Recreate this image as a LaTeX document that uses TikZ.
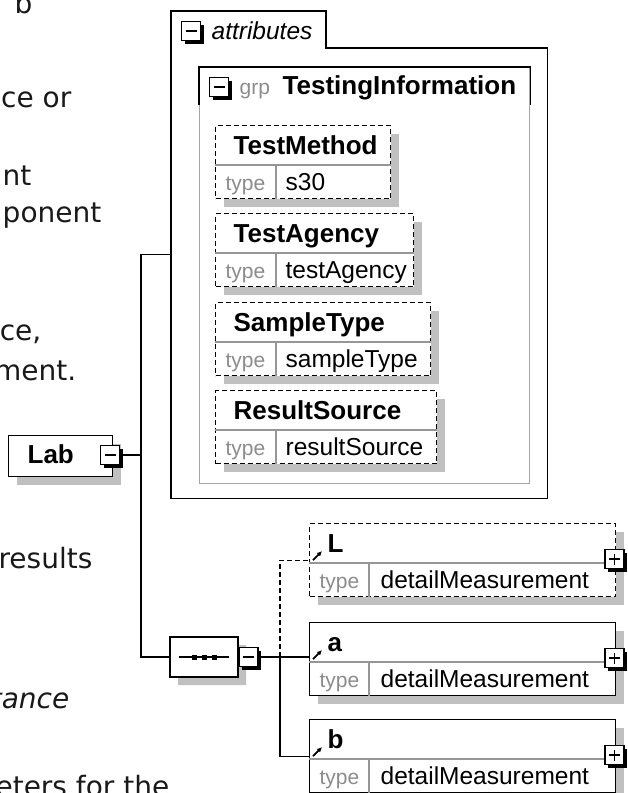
\documentclass[tikz,border=0pt]{standalone}
\usepackage{fontspec}
\setmainfont{Liberation Sans}
\newfontfamily\pagefont{DejaVu Sans}
\usetikzlibrary{arrows.meta, shapes.misc, shadows, calc}
\definecolor{shadowgray}{RGB}{192,192,192}
\definecolor{typegray}{RGB}{140,140,140}
\definecolor{divgray}{RGB}{150,150,150}
\definecolor{grpgray}{RGB}{165,165,165}
\definecolor{pageink}{RGB}{25,25,25}
\tikzset{
  elembox/.style={draw, fill=white, anchor=north west, inner sep=0pt, minimum height=73pt,
    drop shadow={shadow xshift=8pt, shadow yshift=-8pt, fill=shadowgray, opacity=1}},
  optbox/.style={elembox, dash pattern=on 5pt off 3pt},
  exicon/.style={draw, fill=white, line width=1.5pt, minimum size=19pt, inner sep=0pt,
    drop shadow={shadow xshift=3pt, shadow yshift=-3pt, fill=black, opacity=1}},
  exminus/.style={exicon, path picture={
    \draw[line width=1.4pt] ([xshift=4pt]path picture bounding box.west) -- ([xshift=-4pt]path picture bounding box.east);}},
  explus/.style={exicon, path picture={
    \draw[line width=1.4pt] ([xshift=4pt]path picture bounding box.west) -- ([xshift=-4pt]path picture bounding box.east);
    \draw[line width=1.4pt] ([yshift=-4pt]path picture bounding box.north) -- ([yshift=4pt]path picture bounding box.south);}},
  nametext/.style={anchor=base west, inner sep=0pt, font=\fontsize{26}{31}\selectfont\bfseries},
  valtext/.style={anchor=base west, inner sep=0pt, font=\fontsize{24.5}{29}\selectfont},
  typetext/.style={anchor=base west, inner sep=0pt, text=typegray, font=\fontsize{21}{25}\selectfont},
  pagefrag/.style={anchor=base east, inner sep=0pt, text=pageink, font=\pagefont\fontsize{28}{33}\selectfont}
}
\begin{document}
\begin{tikzpicture}[x=1pt, y=-1pt, line width=1.3pt]
\useasboundingbox (0,0) rectangle (627,793);
\clip (0,0) rectangle (627,793);

% page text behind the diagram
\node[pagefrag] (p1) at (33,13) {b};
\node[pagefrag] (p2) at (72,107) {ce or};
\node[pagefrag] (p3) at (32,185) {nt};
\node[pagefrag] (p4) at (102,222) {ponent};
\node[pagefrag] (p5) at (42,340) {ce,};
\node[pagefrag] (p6) at (77,380) {ment.};
\node[pagefrag] (p7) at (93,568) {results};
\node[pagefrag, font=\pagefont\itshape\fontsize{28}{33}\selectfont] (p8) at (70,708) {tance};
\node[pagefrag] (p9) at (170,796) {eters for the};

% attributes
\node[minimum width=375pt, minimum height=486pt, anchor=north west, inner sep=0pt] (attr) at (171,11) {};
\draw (attr.south west) -- (attr.north west) -- ++(155,0) -- ++(0,37) coordinate (tabfoot)
  -- (tabfoot -| attr.east) -- (attr.south east) -- cycle;
\node[exminus] (attrx) at (191,31) {};
\node[valtext, font=\fontsize{24.5}{29}\selectfont\itshape] (attrlbl) at (211,39) {attributes};

% group
\node[draw=grpgray, minimum width=330pt, minimum height=416pt, anchor=north west, inner sep=0pt] (grp) at (199,67) {};
\draw ([yshift=-38pt]grp.north west) -- (grp.north west) -- (grp.north east) -- ([yshift=-38pt]grp.north east);
\node[exminus] (grpx) at (219,87) {};
\node[typetext] (grpkind) at (239,94) {grp};
\node[nametext] (grplbl) at (282,94) {TestingInformation};

\foreach \nm/\ttl/\val/\yy/\ww in {tm/TestMethod/s30/125/175, ta/TestAgency/testAgency/213/198,
    st/SampleType/sampleType/302/215, rs/ResultSource/resultSource/390/221}{
  \node[optbox, minimum width=\ww pt] (\nm) at (215,\yy) {};
  \draw[divgray] ([yshift=-40pt]\nm.north west) -- ([yshift=-40pt]\nm.north east);
  \draw[divgray] ([xshift=61pt,yshift=-40pt]\nm.north west) -- ([xshift=61pt]\nm.south west);
  \node[nametext] (\nm-name) at ([xshift=18pt,yshift=-29pt]\nm.north west) {\ttl};
  \node[typetext] (\nm-kind) at ([xshift=10pt,yshift=9pt]\nm.south west) {type};
  \node[valtext] (\nm-type) at ([xshift=70pt,yshift=9pt]\nm.south west) {\val};
}

% Lab
\node[elembox, minimum width=104pt, minimum height=41pt] (lab) at (8,435) {};
\node[nametext] (lab-name) at (27,463) {Lab};
\node[exminus] (labx) at (110,455) {};

% sequence
\node[chamfered rectangle, chamfered rectangle xsep=9pt, draw, fill=white, minimum width=68pt,
  minimum height=40pt, inner sep=0pt,
  drop shadow={shadow xshift=8pt, shadow yshift=-8pt, fill=shadowgray, opacity=1}] (seq) at (204,657) {};
\draw ([xshift=10pt]seq.west) -- ([xshift=-10pt]seq.east);
\foreach \dx in {-10,0,10}
  \fill ([xshift=\dx pt]seq.center) ++(-2.5,-2.5) rectangle ++(5,5);
\node[exminus, anchor=west] (seqx) at ([xshift=-0.5pt]seq.east) {};

\foreach \nm/\yy/\sty in {L/523/optbox, a/622/elembox, b/719/elembox}{
  \node[\sty, minimum width=306pt] (\nm) at (309,\yy) {};
  \draw[divgray] ([yshift=-40pt]\nm.north west) -- ([yshift=-40pt]\nm.north east);
  \draw[divgray] ([xshift=60pt,yshift=-40pt]\nm.north west) -- ([xshift=60pt]\nm.south west);
  \node[nametext] (\nm-name) at ([xshift=18pt,yshift=-29pt]\nm.north west) {\nm};
  \node[typetext] (\nm-kind) at ([xshift=10pt,yshift=9pt]\nm.south west) {type};
  \node[valtext] (\nm-type) at ([xshift=71pt,yshift=9pt]\nm.south west) {detailMeasurement};
  \node[explus] (\nm-x) at ([xshift=-2pt,yshift=1pt]\nm.east) {};
  \draw[-{Latex[length=5pt,width=5pt]}, line width=1.8pt] ([xshift=4pt]\nm.west) -- ++(9,-9);
}

% connectors
\coordinate (fork) at (141,455);
\coordinate (br) at (280,657);
\draw (labx.east) -- (labx.east -| fork);
\draw (fork) |- (attr.west);
\draw (fork) |- (seq.west);
\draw (seqx.east) -- (seqx.east -| a.west);
\draw[dash pattern=on 5pt off 3pt] (br) |- (L.west);
\draw (br) |- (b.west);
\end{tikzpicture}
\end{document}
